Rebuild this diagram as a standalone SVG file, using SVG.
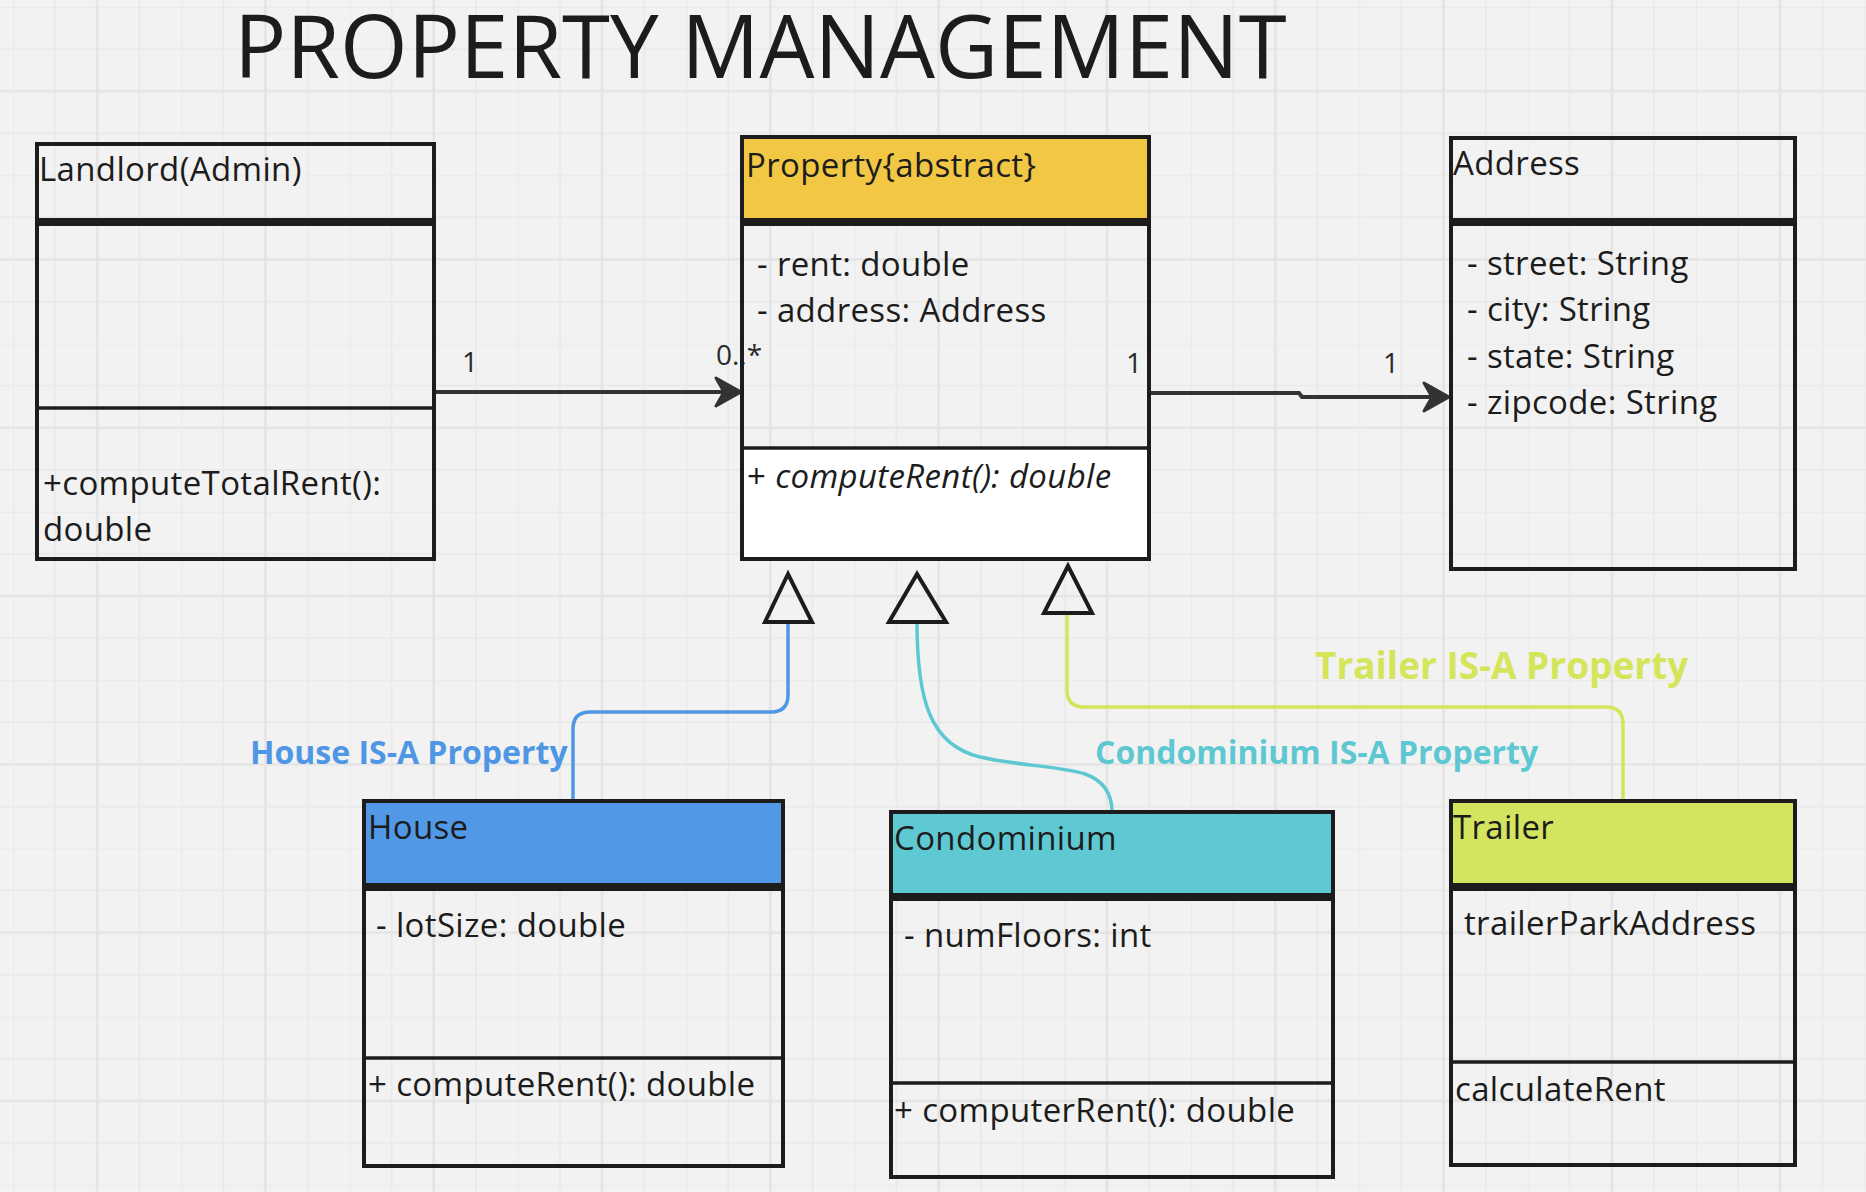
<svg xmlns="http://www.w3.org/2000/svg" width="1866" height="1192" viewBox="0 0 1866 1192">
<defs>
<pattern id="grid" x="13" y="7" width="168.3" height="168.3" patternUnits="userSpaceOnUse">
<path d="M0 0V168.3M42.075 0V168.3M126.225 0V168.3M0 0H168.3M0 42.075H168.3M0 126.225H168.3" stroke="#e8e8e8" stroke-width="1.5" fill="none"/>
<path d="M84.15 0V168.3M0 84.15H168.3" stroke="#e2e2e2" stroke-width="2.2" fill="none"/>
</pattern>
<style>
text{font-family:"Open Sans","Noto Sans","DejaVu Sans",sans-serif;fill:#1c1c1c}
.t{font-size:33px;letter-spacing:0.35px}
.m{font-size:28px;fill:#2a2a2a}
.lab{font-size:32px;font-weight:bold}
.box{fill:none;stroke:#1c1c1c;stroke-width:4}
.thick{stroke:#1c1c1c;stroke-width:8}
.sep{stroke:#1c1c1c;stroke-width:3.5}
.assoc{fill:none;stroke:#333;stroke-width:4}
.head{fill:#333;stroke:#333;stroke-width:3;stroke-linejoin:round}
.tri{fill:none;stroke:#1c1c1c;stroke-width:4;stroke-linejoin:miter}
.gen{fill:none;stroke-width:3.5}
</style>
</defs>
<rect width="1866" height="1192" fill="#f2f2f2"/>
<rect width="1866" height="1192" fill="url(#grid)"/>

<text id="title" x="234" y="78" style="font-size:87px">PROPERTY MANAGEMENT</text>

<g id="connectors">
<path class="assoc" d="M434 392H733"/>
<path class="head" d="M741 392L716 378L724 392L716 406Z"/>
<path class="assoc" d="M1149 393H1299L1302 397H1441"/>
<path class="head" d="M1449 397L1424 383L1432 397L1424 411Z"/>
<text class="m" x="462" y="372">1</text>
<text class="m" x="716" y="365">0..*</text>
<text class="m" x="1126" y="373">1</text>
<text class="m" x="1383" y="373">1</text>

<path class="gen" stroke="#4F97E5" d="M573 801V729Q573 712 590 712H771Q788 712 788 695V622"/>
<path class="gen" stroke="#5EC8D2" d="M917 622C917 700 930 745 980 757C1020 766 1060 766 1085 774C1105 781 1112 795 1112 812"/>
<path class="gen" stroke="#D4E55A" d="M1067 614V690Q1067 707 1084 707H1606Q1623 707 1623 724V801"/>
<path class="tri" d="M788 574L765 622H812Z"/>
<path class="tri" d="M917 574L889 622H946Z"/>
<path class="tri" d="M1068 566L1044 613H1092Z"/>
<text class="lab" x="250" y="764" style="fill:#4F97E5">House IS-A Property</text>
<text class="lab" x="1095" y="764" style="fill:#5EC8D2">Condominium IS-A Property</text>
<text class="lab" x="1315" y="679" style="fill:#D4E55A;font-size:37px">Trailer IS-A Property</text>
</g>

<g id="landlord">
<rect class="box" x="37" y="144" width="397" height="415"/>
<line class="thick" x1="37" y1="222" x2="434" y2="222"/>
<line class="sep" x1="37" y1="408" x2="434" y2="408"/>
<text class="t" x="39" y="181">Landlord(Admin)</text>
<text class="t" x="43" y="495">+computeTotalRent():</text>
<text class="t" x="43" y="541">double</text>
</g>

<g id="property">
<rect x="742" y="137" width="407" height="81" fill="#F2C744"/>
<rect x="742" y="448" width="407" height="111" fill="#ffffff"/>
<rect class="box" x="742" y="137" width="407" height="422"/>
<line class="thick" x1="742" y1="222" x2="1149" y2="222"/>
<line class="sep" x1="742" y1="448" x2="1149" y2="448"/>
<text class="t" x="746" y="177">Property{abstract}</text>
<text class="t" x="757" y="276">- rent: double</text>
<text class="t" x="757" y="322">- address: Address</text>
<text class="t" x="747" y="488">+ <tspan font-style="italic">computeRent(): double</tspan></text>
</g>

<g id="address">
<rect class="box" x="1451" y="138" width="344" height="431"/>
<line class="thick" x1="1451" y1="222" x2="1795" y2="222"/>
<text class="t" x="1453" y="175">Address</text>
<text class="t" x="1467" y="275">- street: String</text>
<text class="t" x="1467" y="321">- city: String</text>
<text class="t" x="1467" y="368">- state: String</text>
<text class="t" x="1467" y="414">- zipcode: String</text>
</g>

<g id="house">
<rect x="364" y="801" width="419" height="82" fill="#5199E6"/>
<rect class="box" x="364" y="801" width="419" height="365"/>
<line class="thick" x1="364" y1="887" x2="783" y2="887"/>
<line class="sep" x1="364" y1="1058" x2="783" y2="1058"/>
<text class="t" x="368" y="839">House</text>
<text class="t" x="376" y="937">- lotSize: double</text>
<text class="t" x="368" y="1096">+ computeRent(): double</text>
</g>

<g id="condominium">
<rect x="891" y="812" width="442" height="81" fill="#5FC9D3"/>
<rect class="box" x="891" y="812" width="442" height="365"/>
<line class="thick" x1="891" y1="897" x2="1333" y2="897"/>
<line class="sep" x1="891" y1="1083" x2="1333" y2="1083"/>
<text class="t" x="894" y="850">Condominium</text>
<text class="t" x="904" y="947">- numFloors: int</text>
<text class="t" x="894" y="1122">+ computerRent(): double</text>
</g>

<g id="trailer">
<rect x="1451" y="801" width="344" height="82" fill="#D3E55E"/>
<rect class="box" x="1451" y="801" width="344" height="364"/>
<line class="thick" x1="1451" y1="887" x2="1795" y2="887"/>
<line class="sep" x1="1451" y1="1062" x2="1795" y2="1062"/>
<text class="t" x="1453" y="839">Trailer</text>
<text class="t" x="1464" y="935">trailerParkAddress</text>
<text class="t" x="1455" y="1101">calculateRent</text>
</g>
</svg>
